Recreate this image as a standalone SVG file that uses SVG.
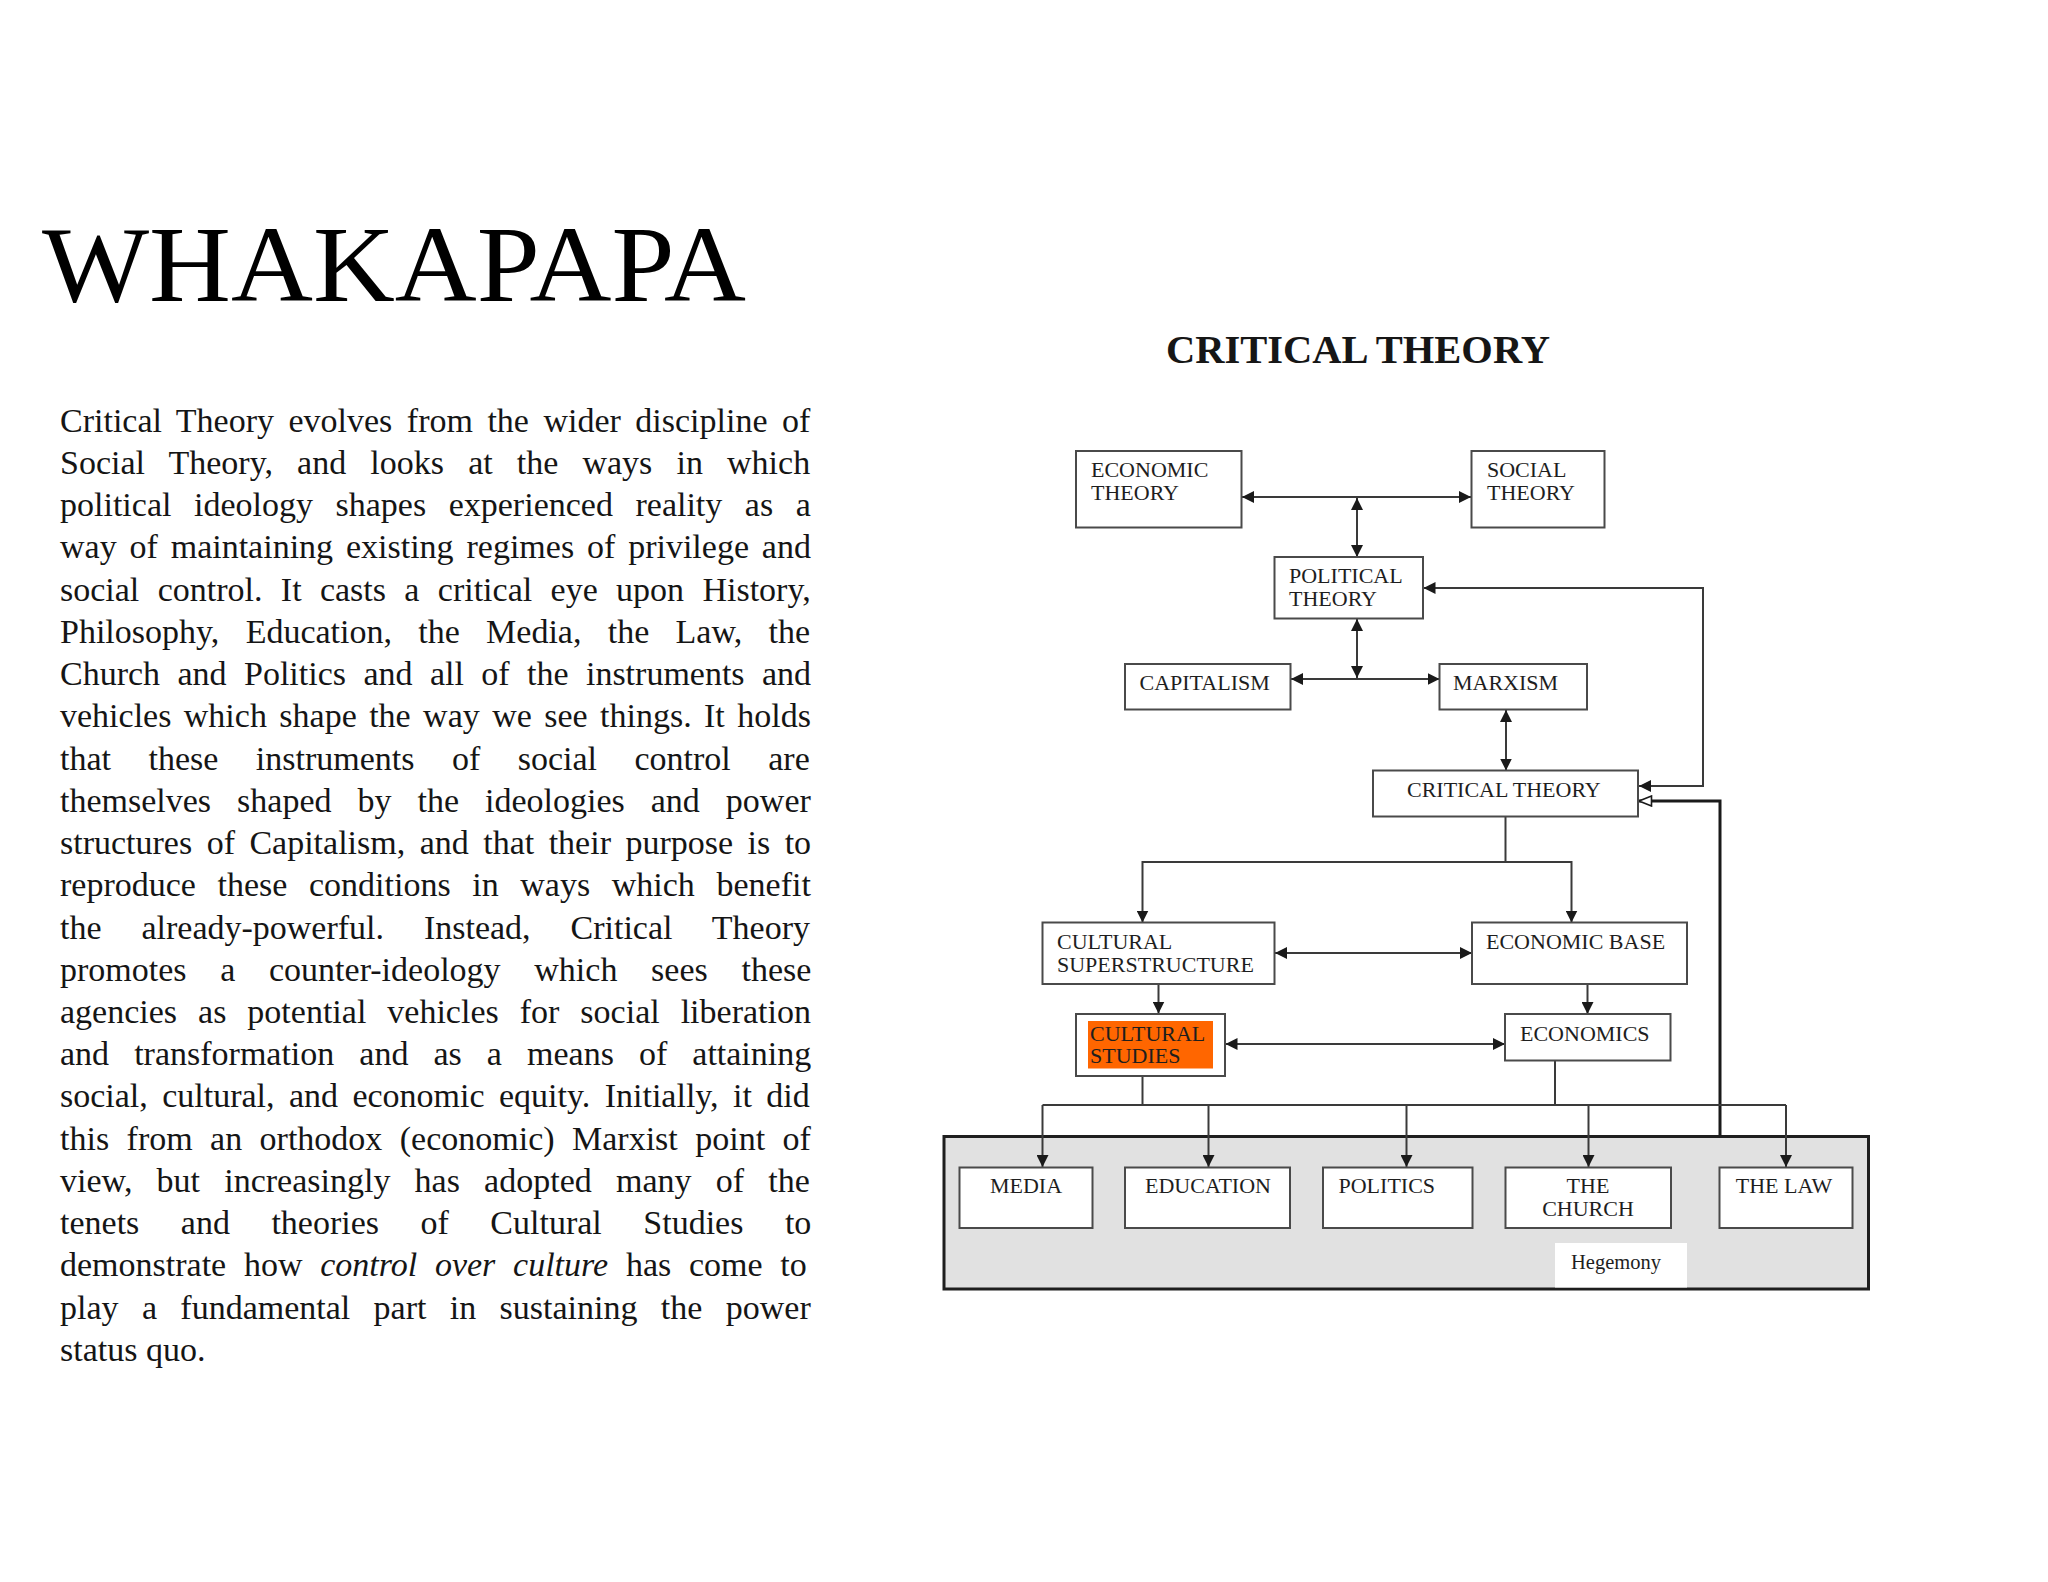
<svg xmlns="http://www.w3.org/2000/svg" width="2048" height="1582" viewBox="0 0 2048 1582">
<style>
.ser{font-family:"Liberation Serif","Times New Roman",serif}
.para{font-family:"Liberation Serif","Times New Roman",serif;font-size:34px;fill:#151515}
.lbl{font-family:"Liberation Serif","Times New Roman",serif;font-size:22px;fill:#1e1e1e}
.box{fill:#ffffff;stroke:#4a4a4a;stroke-width:2}
.ln{fill:none;stroke:#3a3a3a;stroke-width:2}
</style>
<defs>
<marker id="ah" viewBox="0 0 12 12" refX="12" refY="6" markerWidth="12" markerHeight="12" markerUnits="userSpaceOnUse" orient="auto-start-reverse"><path d="M0,0 L12,6 L0,12 Z" fill="#1a1a1a"/></marker>
<marker id="oh" viewBox="0 0 15 12" refX="14" refY="6" markerWidth="15" markerHeight="12" markerUnits="userSpaceOnUse" orient="auto"><path d="M1.5,1 L14,6 L1.5,11 Z" fill="#ffffff" stroke="#1a1a1a" stroke-width="1.6"/></marker>
</defs>
<rect width="2048" height="1582" fill="#ffffff"/>

<g id="heading">
<text class="ser" x="42" y="301" font-size="109" fill="#000" textLength="704" lengthAdjust="spacingAndGlyphs">WHAKAPAPA</text>
</g>

<g id="paragraph">
<text class="para" x="60" y="431.7" word-spacing="5.98">Critical Theory evolves from the wider discipline of</text>
<text class="para" x="60" y="473.9" word-spacing="15.63">Social Theory, and looks at the ways in which</text>
<text class="para" x="60" y="516.2" word-spacing="14.05">political ideology shapes experienced reality as a</text>
<text class="para" x="60" y="558.4" word-spacing="4.36">way of maintaining existing regimes of privilege and</text>
<text class="para" x="60" y="600.6" word-spacing="9.85">social control. It casts a critical eye upon History,</text>
<text class="para" x="60" y="642.9" word-spacing="17.8">Philosophy, Education, the Media, the Law, the</text>
<text class="para" x="60" y="685.1" word-spacing="8.9">Church and Politics and all of the instruments and</text>
<text class="para" x="60" y="727.3" word-spacing="3.91">vehicles which shape the way we see things. It holds</text>
<text class="para" x="60" y="769.5" word-spacing="28.97">that these instruments of social control are</text>
<text class="para" x="60" y="811.8" word-spacing="17.5">themselves shaped by the ideologies and power</text>
<text class="para" x="60" y="854" word-spacing="5.95">structures of Capitalism, and that their purpose is to</text>
<text class="para" x="60" y="896.2" word-spacing="13.1">reproduce these conditions in ways which benefit</text>
<text class="para" x="60" y="938.5" word-spacing="31.4">the already-powerful. Instead, Critical Theory</text>
<text class="para" x="60" y="980.7" word-spacing="25.2">promotes a counter-ideology which sees these</text>
<text class="para" x="60" y="1022.9" word-spacing="12.5">agencies as potential vehicles for social liberation</text>
<text class="para" x="60" y="1065.2" word-spacing="16.55">and transformation and as a means of attaining</text>
<text class="para" x="60" y="1107.4" word-spacing="5.9">social, cultural, and economic equity. Initially, it did</text>
<text class="para" x="60" y="1149.6" word-spacing="8.93">this from an orthodox (economic) Marxist point of</text>
<text class="para" x="60" y="1191.8" word-spacing="15.7">view, but increasingly has adopted many of the</text>
<text class="para" x="60" y="1234.1" word-spacing="33">tenets and theories of Cultural Studies to</text>
<text class="para" x="60" y="1276.3" word-spacing="9.25">demonstrate how <tspan font-style="italic">control over culture</tspan> has come to</text>
<text class="para" x="60" y="1318.5" word-spacing="14.85">play a fundamental part in sustaining the power</text>
<text class="para" x="60" y="1360.8">status quo.</text>
</g>

<g id="diagram-title">
<text class="ser" x="1166" y="363" font-size="39" font-weight="bold" fill="#161616" textLength="384" lengthAdjust="spacingAndGlyphs">CRITICAL THEORY</text>
</g>

<g id="hegemony">
<rect x="944" y="1136.5" width="924.5" height="152.5" fill="#e1e1e1" stroke="#1e1e1e" stroke-width="3"/>
<rect x="1555" y="1243" width="132" height="44.5" fill="#ffffff"/>
<text class="ser" x="1616" y="1268.5" font-size="20.5" fill="#1e1e1e" text-anchor="middle">Hegemony</text>
</g>

<g id="connectors">
<path class="ln" d="M1242,497 H1471" marker-start="url(#ah)" marker-end="url(#ah)"/>
<path class="ln" d="M1357,498 V557" marker-start="url(#ah)" marker-end="url(#ah)"/>
<path class="ln" d="M1357,619 V678" marker-start="url(#ah)" marker-end="url(#ah)"/>
<path class="ln" d="M1291,679 H1439.5" marker-start="url(#ah)" marker-end="url(#ah)"/>
<path class="ln" d="M1506,710 V770.5" marker-start="url(#ah)" marker-end="url(#ah)"/>
<path class="ln" d="M1423.5,588 H1703 V786 H1639" marker-start="url(#ah)" marker-end="url(#ah)"/>
<path fill="none" stroke="#1a1a1a" stroke-width="3" d="M1720,1136 V801 H1639" marker-end="url(#oh)"/>
<path class="ln" d="M1505.5,817 V862"/>
<path class="ln" d="M1142.5,922.5 V862 H1571.5 V922.5" marker-start="url(#ah)" marker-end="url(#ah)"/>
<path class="ln" d="M1275,953 H1472" marker-start="url(#ah)" marker-end="url(#ah)"/>
<path class="ln" d="M1158.5,984 V1013.5" marker-end="url(#ah)"/>
<path class="ln" d="M1587.5,984 V1014" marker-end="url(#ah)"/>
<path class="ln" d="M1225.5,1044 H1505" marker-start="url(#ah)" marker-end="url(#ah)"/>
<path class="ln" d="M1142.5,1076 V1105"/>
<path class="ln" d="M1555,1061 V1105"/>
<path class="ln" d="M1042.5,1105 H1786"/>
<path class="ln" d="M1042.5,1105 V1167" marker-end="url(#ah)"/>
<path class="ln" d="M1208.5,1105 V1167" marker-end="url(#ah)"/>
<path class="ln" d="M1406.5,1105 V1167" marker-end="url(#ah)"/>
<path class="ln" d="M1588.5,1105 V1167" marker-end="url(#ah)"/>
<path class="ln" d="M1786,1105 V1167" marker-end="url(#ah)"/>
</g>

<g id="economic-theory">
<rect class="box" x="1076" y="451" width="165.5" height="76.5"/>
<text class="lbl" x="1091" y="477">ECONOMIC</text>
<text class="lbl" x="1091" y="500">THEORY</text>
</g>
<g id="social-theory">
<rect class="box" x="1471.5" y="451" width="133" height="76.5"/>
<text class="lbl" x="1487" y="477">SOCIAL</text>
<text class="lbl" x="1487" y="500">THEORY</text>
</g>
<g id="political-theory">
<rect class="box" x="1274.5" y="557" width="148.5" height="61.5"/>
<text class="lbl" x="1289" y="583">POLITICAL</text>
<text class="lbl" x="1289" y="606">THEORY</text>
</g>
<g id="capitalism">
<rect class="box" x="1125" y="664" width="165.5" height="45.5"/>
<text class="lbl" x="1139.5" y="689.5">CAPITALISM</text>
</g>
<g id="marxism">
<rect class="box" x="1439.5" y="664" width="147.5" height="45.5"/>
<text class="lbl" x="1453" y="689.5">MARXISM</text>
</g>
<g id="critical-theory">
<rect class="box" x="1373" y="770.5" width="265" height="46"/>
<text class="lbl" x="1407" y="797">CRITICAL THEORY</text>
</g>
<g id="cultural-superstructure">
<rect class="box" x="1042.5" y="922.5" width="232" height="61.5"/>
<text class="lbl" x="1057" y="948.5">CULTURAL</text>
<text class="lbl" x="1057" y="972">SUPERSTRUCTURE</text>
</g>
<g id="economic-base">
<rect class="box" x="1472" y="922.5" width="215" height="61.5"/>
<text class="lbl" x="1486" y="948.5">ECONOMIC BASE</text>
</g>
<g id="cultural-studies">
<rect class="box" x="1076" y="1014" width="149" height="62"/>
<rect x="1088" y="1021" width="125" height="47.5" fill="#ff6600"/>
<text class="lbl" x="1090" y="1040.5">CULTURAL</text>
<text class="lbl" x="1090" y="1063">STUDIES</text>
</g>
<g id="economics">
<rect class="box" x="1505" y="1014" width="165.5" height="46.5"/>
<text class="lbl" x="1520" y="1040.5">ECONOMICS</text>
</g>
<g id="media">
<rect class="box" x="959.5" y="1167.5" width="133" height="60.5"/>
<text class="lbl" x="1026" y="1193" text-anchor="middle">MEDIA</text>
</g>
<g id="education">
<rect class="box" x="1125" y="1167.5" width="165" height="60.5"/>
<text class="lbl" x="1208" y="1193" text-anchor="middle">EDUCATION</text>
</g>
<g id="politics">
<rect class="box" x="1323" y="1167.5" width="149.5" height="60.5"/>
<text class="lbl" x="1338.5" y="1193">POLITICS</text>
</g>
<g id="the-church">
<rect class="box" x="1505.5" y="1167.5" width="165.5" height="60.5"/>
<text class="lbl" x="1588" y="1193" text-anchor="middle">THE</text>
<text class="lbl" x="1588" y="1215.5" text-anchor="middle">CHURCH</text>
</g>
<g id="the-law">
<rect class="box" x="1719.5" y="1167.5" width="133" height="60.5"/>
<text class="lbl" x="1784" y="1193" text-anchor="middle">THE LAW</text>
</g>
</svg>
